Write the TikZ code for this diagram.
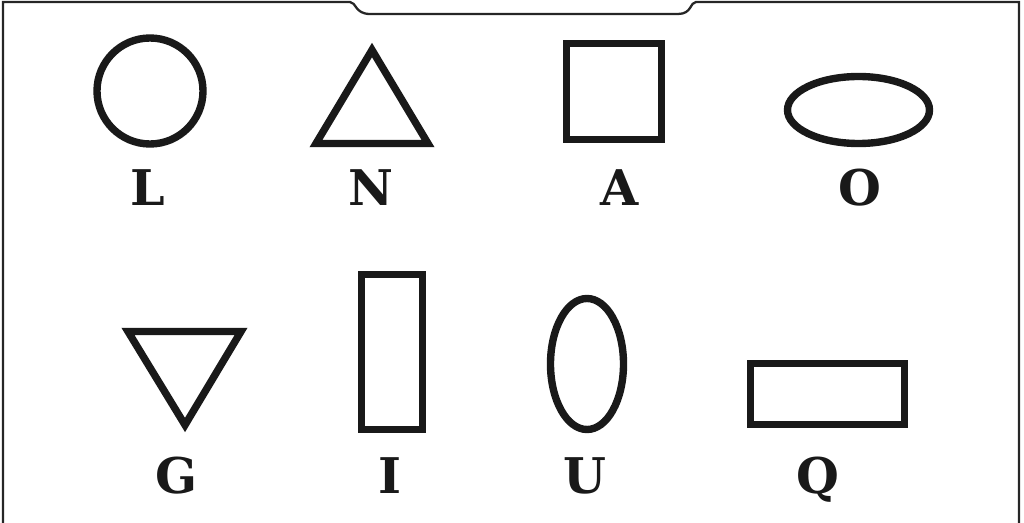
\documentclass[tikz,border=0pt]{standalone}
\usepackage{fontspec}
\newfontfamily\glyphfont{DejaVu Serif}
\usetikzlibrary{positioning}

\begin{document}
\begin{tikzpicture}[
x=0.02cm, y=-0.02cm,
frame/.style={line width=1.3pt, black!85},
figline/.style={line width=4.2pt, black!90, line join=miter},
letter/.style={anchor=base, inner sep=0pt, font=\glyphfont\bfseries\fontsize{28}{30}\selectfont, text=black!90}
]
\useasboundingbox (0,0) rectangle (1024,523);

% outer frame with the tab at the top
\draw[frame] (3,523) -- (3,2) -- (350,2)
  .. controls (356,2) and (355,14) .. (370,14) -- (678,14)
  .. controls (692,14) and (690,2) .. (696,2) -- (1019,2) -- (1019,523);

% first row
\draw[figline] (150,91) circle (53);
\draw[figline] (316,143.5) -- (428,143.5) -- (372,50) -- cycle;
\draw[figline] (566.5,43.5) rectangle (661.5,139.5);
\draw[figline] (858.5,110) ellipse (71 and 33.5);

\node[letter] (l) at (148,206) {L};
\node[letter] (n) at (371,206) {N};
\node[letter] (a) at (620,206) {A};
\node[letter] (o) at (860,206) {O};

% second row
\draw[figline] (128,331.5) -- (241,331.5) -- (185,425) -- cycle;
\draw[figline] (361.5,274.5) rectangle (422.5,429.5);
\draw[figline] (587,364) ellipse (36.5 and 65.5);
\draw[figline] (750.5,363.5) rectangle (904.5,424.5);

\node[letter] (g) at (177,493) {G};
\node[letter] (i) at (390,493) {I};
\node[letter] (u) at (585,493) {U};
\node[letter] (q) at (818,493) {Q};
\end{tikzpicture}
\end{document}
